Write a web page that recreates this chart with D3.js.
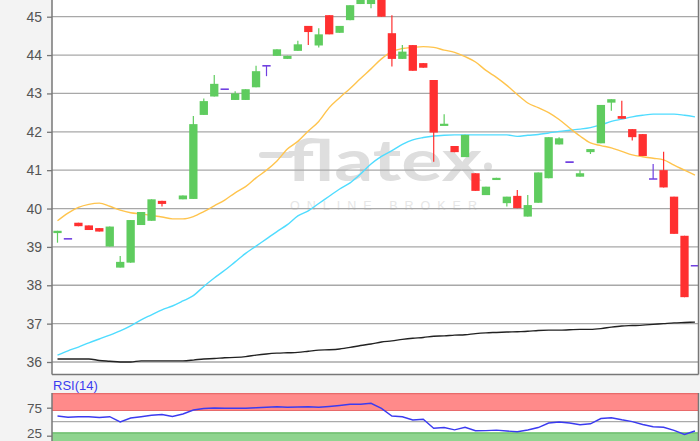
<!DOCTYPE html>
<html><head><meta charset="utf-8">
<script src="https://cdn.jsdelivr.net/npm/d3@7"></script>
<style>html,body{margin:0;padding:0;background:#f3f3f3;} svg{display:block;}</style>
</head><body><svg id="c" width="700" height="441"></svg>
<script>
// ---- data ----
const days = [0,1,2,3,4,5,6,7,8,9,10,11,12,13,14,15,16,17,18,19,20,21,22,23,24,25,26,27,28,29,30,31,32,33,34,35,36,37,38,39,40,41,42,43,44,45,46,47,48,49,50,51,52,53,54,55,56,57,58,59,60,61];
const opens  = [39.36,39.21,39.63,39.56,39.49,39.01,38.46,38.59,39.57,39.68,40.20,null,40.24,40.25,42.44,42.92,43.11,42.83,42.83,43.16,43.72,43.98,43.90,44.11,44.76,44.25,45.04,44.58,44.91,45.33,45.33,45.65,44.57,43.90,44.26,43.79,43.35,42.19,41.63,41.34,40.92,40.35,40.78,40.14,40.33,39.79,40.15,40.79,41.67,41.21,40.83,41.47,41.70,42.76,42.41,42.07,41.94,40.77,41.00,40.31,39.29,38.51];
const highs  = [39.42,39.21,39.63,39.56,39.49,39.53,38.76,39.70,39.91,40.24,40.20,null,40.34,42.41,42.87,43.48,43.11,43.06,43.11,43.72,43.72,44.15,43.98,44.37,44.76,44.70,45.04,44.76,45.30,45.55,45.70,45.70,45.04,44.26,44.26,43.79,43.35,42.46,41.63,41.92,40.92,40.57,40.80,40.31,40.48,40.35,40.94,41.86,41.86,41.21,41.00,41.55,42.70,42.85,42.81,42.07,41.94,41.16,41.48,40.31,39.29,38.51];
const lows   = [39.11,39.21,39.54,39.44,39.40,39.01,38.46,38.59,39.57,39.68,40.05,null,40.24,40.25,42.44,42.92,43.11,42.83,42.83,43.16,43.45,43.98,43.90,44.11,44.26,44.20,44.54,44.58,44.91,45.33,45.22,45.00,43.70,43.90,43.59,43.67,41.22,42.19,41.47,41.34,40.46,40.35,40.78,40.05,40.01,39.79,40.15,40.79,41.67,41.21,40.83,41.42,41.70,42.55,42.34,41.77,41.37,40.77,40.55,39.34,37.69,38.51];
const closes = [39.42,39.21,39.54,39.44,39.40,39.53,38.61,39.70,39.91,40.24,40.12,null,40.34,42.20,42.80,43.25,43.11,43.00,43.11,43.58,43.72,44.15,43.98,44.28,44.60,44.54,44.54,44.76,45.30,45.55,45.65,45.00,43.90,44.09,43.59,43.67,41.98,42.21,41.47,41.92,40.46,40.57,40.80,40.31,40.01,40.09,40.94,41.86,41.83,41.21,40.92,41.55,42.70,42.85,42.34,41.86,41.37,40.77,40.55,39.34,37.69,38.51];
const ma20  = [39.68,39.88,40.03,40.11,40.14,40.06,39.96,39.89,39.86,39.82,39.78,39.73,39.73,39.79,39.92,40.07,40.22,40.41,40.57,40.80,41.00,41.24,41.55,41.75,42.02,42.27,42.63,42.89,43.13,43.39,43.64,43.90,44.09,44.17,44.20,44.22,44.20,44.13,44.07,43.96,43.82,43.60,43.42,43.21,42.97,42.75,42.63,42.50,42.32,42.10,41.89,41.71,41.64,41.58,41.49,41.40,41.35,41.31,41.27,41.13,41.00,40.87];
const ma50  = [36.18,36.29,36.39,36.50,36.60,36.70,36.81,36.94,37.10,37.23,37.36,37.46,37.59,37.73,37.97,38.19,38.39,38.61,38.83,39.02,39.21,39.40,39.58,39.81,39.94,40.13,40.32,40.51,40.67,40.90,41.16,41.36,41.51,41.67,41.79,41.85,41.89,41.91,41.92,41.92,41.92,41.92,41.92,41.92,41.88,41.91,41.93,41.97,42.01,42.04,42.07,42.11,42.18,42.27,42.33,42.39,42.43,42.46,42.46,42.46,42.43,42.39];
const ma200 = [36.08,36.08,36.08,36.08,36.04,36.02,36.00,36.00,36.03,36.03,36.03,36.03,36.03,36.05,36.08,36.09,36.11,36.12,36.14,36.18,36.21,36.23,36.24,36.25,36.28,36.31,36.32,36.34,36.38,36.43,36.47,36.52,36.55,36.59,36.62,36.64,36.67,36.68,36.70,36.71,36.74,36.76,36.77,36.78,36.79,36.80,36.82,36.83,36.83,36.84,36.85,36.85,36.87,36.91,36.94,36.95,36.96,36.98,37.00,37.02,37.03,37.04];
const rsi14 = [60.2,57.9,58.9,58.8,57.5,58.9,49.5,56.6,58.9,61.4,62.9,59.3,63.8,70.9,73.6,74.5,73.9,73.9,73.9,74.8,75.7,76.6,75.7,76.3,76.8,75.7,77.1,78.9,81.1,81.1,82.9,73.9,60.2,58.8,53.0,54.3,38.4,39.6,35.5,40.0,33.8,34.1,35.0,33.4,32.0,35.2,39.6,47.7,49.5,47.7,44.6,46.3,55.7,57.1,53.4,50.2,45.0,41.1,40.0,34.6,27.1,33.4];
const priceTicks = [36,37,38,39,40,41,42,43,44,45];
const rsiTicks = [25,75];
const rsiMid = 50;
const rsiBands = [{lo:70,hi:100,fill:"#ff8a8a",edge:"#e86a6a"},{lo:0,hi:30,fill:"#8fd48f",edge:"#62b862"}];

// ---- layout ----
const L = 52, R = 698.5, mainBottom = 374.5, rsiTop = 393, H = 441;
const svg = d3.select("#c");
const x = d3.scalePoint().domain(days).range([57.5, 694.95]);
const y = d3.scaleLinear().domain([36, 45]).range([362, 16.7]);
const yr = d3.scaleLinear().domain([0, 100]).range([449.7, 393.7]);
const bw = 8.3;
const font = "'Liberation Sans', Arial, sans-serif";

const defs = svg.append("defs");
defs.append("clipPath").attr("id","mainClip").append("rect").attr("x",L).attr("y",0).attr("width",R-L).attr("height",mainBottom);
defs.append("clipPath").attr("id","rsiClip").append("rect").attr("x",L).attr("y",rsiTop).attr("width",R-L).attr("height",H-rsiTop);

// main panel background
svg.append("rect").attr("x",L).attr("y",0).attr("width",R-L).attr("height",mainBottom).attr("fill","#fff");

// watermark
const wm = svg.append("g");
wm.append("rect").attr("x",259).attr("y",152).attr("width",34).attr("height",6).attr("rx",3).attr("fill","#dedede");
wm.append("text").attr("x",287).attr("y",181).attr("font-family","Lato, 'Open Sans', sans-serif").attr("font-weight",700)
  .attr("font-size",57).attr("fill","#dedede").attr("textLength",195).attr("lengthAdjust","spacingAndGlyphs").text("flatex");
wm.append("circle").attr("cx",488).attr("cy",166.5).attr("r",4).attr("fill","#dedede");
wm.append("text").attr("x",290).attr("y",210).attr("font-family",font).attr("font-size",12.5).attr("fill","#e6e6e6")
  .attr("textLength",187).attr("lengthAdjust","spacing").text("ONLINE BROKER");

// grid
svg.append("g").selectAll("line").data(priceTicks).join("line")
  .attr("x1",L).attr("x2",R).attr("y1",d=>y(d)).attr("y2",d=>y(d))
  .attr("stroke","#a8a8a8").attr("stroke-width",1.3);

// y axis
const ax = svg.append("g").attr("transform",`translate(${L},0)`)
  .call(d3.axisLeft(y).tickValues(priceTicks).tickSize(5).tickPadding(5).tickFormat(d3.format("d")));
ax.select(".domain").remove();
ax.selectAll(".tick line").attr("stroke","#777").attr("stroke-width",1.3);
ax.selectAll("text").attr("font-family",font).attr("font-size",14).attr("fill","#555");

// moving averages
const gLines = svg.append("g").attr("clip-path","url(#mainClip)");
const lineGen = arr => d3.line().x((d,i)=>x(days[i])).y(d=>y(d)).curve(d3.curveMonotoneX)(arr);
gLines.append("path").attr("d",lineGen(ma200)).attr("fill","none").attr("stroke","#222").attr("stroke-width",1.4);
gLines.append("path").attr("d",lineGen(ma50)).attr("fill","none").attr("stroke","#4fdcff").attr("stroke-width",1.4);
gLines.append("path").attr("d",lineGen(ma20)).attr("fill","none").attr("stroke","#ffc44d").attr("stroke-width",1.4);

// candles
const candles = days.map((d,i)=>({d, o:opens[i], h:highs[i], l:lows[i], c:closes[i]})).filter(k=>k.o!==null);
const color = k => k.c > k.o ? "#5fcc5f" : (k.c < k.o ? "#ff3030" : "#7040e0");
const gC = svg.append("g").attr("clip-path","url(#mainClip)");
gC.selectAll("line.w").data(candles).join("line").attr("class","w")
  .attr("x1",k=>x(k.d)).attr("x2",k=>x(k.d)).attr("y1",k=>y(k.h)).attr("y2",k=>y(k.l))
  .attr("stroke",color).attr("stroke-width",1.2);
gC.selectAll("rect.b").data(candles.filter(k=>k.c!==k.o)).join("rect").attr("class","b")
  .attr("x",k=>x(k.d)-bw/2).attr("width",bw)
  .attr("y",k=>y(Math.max(k.o,k.c))).attr("height",k=>Math.max(2.2, Math.abs(y(k.o)-y(k.c))))
  .attr("fill",color);
gC.selectAll("line.dj").data(candles.filter(k=>k.c===k.o)).join("line").attr("class","dj")
  .attr("x1",k=>x(k.d)-bw/2).attr("x2",k=>x(k.d)+bw/2).attr("y1",k=>y(k.o)).attr("y2",k=>y(k.o))
  .attr("stroke",color).attr("stroke-width",1.6);

// main panel borders
svg.append("line").attr("x1",L).attr("x2",R).attr("y1",mainBottom).attr("y2",mainBottom).attr("stroke","#777").attr("stroke-width",1.5);
svg.append("line").attr("x1",R).attr("x2",R).attr("y1",0).attr("y2",mainBottom).attr("stroke","#777").attr("stroke-width",1.5);
svg.append("line").attr("x1",L).attr("x2",L).attr("y1",0).attr("y2",mainBottom).attr("stroke","#777").attr("stroke-width",1.5);

// RSI panel
svg.append("rect").attr("x",L).attr("y",rsiTop).attr("width",R-L).attr("height",H-rsiTop).attr("fill","#fff");
const gR = svg.append("g").attr("clip-path","url(#rsiClip)");
gR.selectAll("rect.band").data(rsiBands).join("rect").attr("class","band")
  .attr("x",L).attr("width",R-L).attr("y",b=>yr(b.hi)).attr("height",b=>yr(b.lo)-yr(b.hi)).attr("fill",b=>b.fill);
gR.selectAll("line.be").data(rsiBands.flatMap(b=>[{v:b.lo,c:b.edge},{v:b.hi,c:b.edge}])).join("line").attr("class","be")
  .attr("x1",L).attr("x2",R).attr("y1",e=>yr(e.v)).attr("y2",e=>yr(e.v)).attr("stroke",e=>e.c).attr("stroke-width",1.2);
gR.append("line").attr("x1",L).attr("x2",R).attr("y1",yr(rsiMid)).attr("y2",yr(rsiMid)).attr("stroke","#aaa").attr("stroke-width",1.3);
gR.append("path").attr("d",d3.line().x((d,i)=>x(days[i])).y(d=>yr(d))(rsi14))
  .attr("fill","none").attr("stroke","#3b3bf0").attr("stroke-width",1.4);
svg.append("line").attr("x1",L).attr("x2",L).attr("y1",rsiTop).attr("y2",H).attr("stroke","#777").attr("stroke-width",1.5);
svg.append("line").attr("x1",R).attr("x2",R).attr("y1",rsiTop).attr("y2",H).attr("stroke","#777").attr("stroke-width",1.5);
const ar = svg.append("g").attr("transform",`translate(${L},0)`)
  .call(d3.axisLeft(yr).tickValues(rsiTicks).tickSize(5).tickPadding(5));
ar.select(".domain").remove();
ar.selectAll(".tick line").attr("stroke","#777").attr("stroke-width",1.3);
ar.selectAll("text").attr("font-family",font).attr("font-size",13.5).attr("fill","#555")
  .attr("dy", d => d === 25 ? "0.1em" : "0.32em");
svg.append("text").attr("x",53).attr("y",389.5).attr("font-family",font).attr("font-size",13).attr("fill","#3b3bf0").text("RSI(14)");
</script></body></html>
